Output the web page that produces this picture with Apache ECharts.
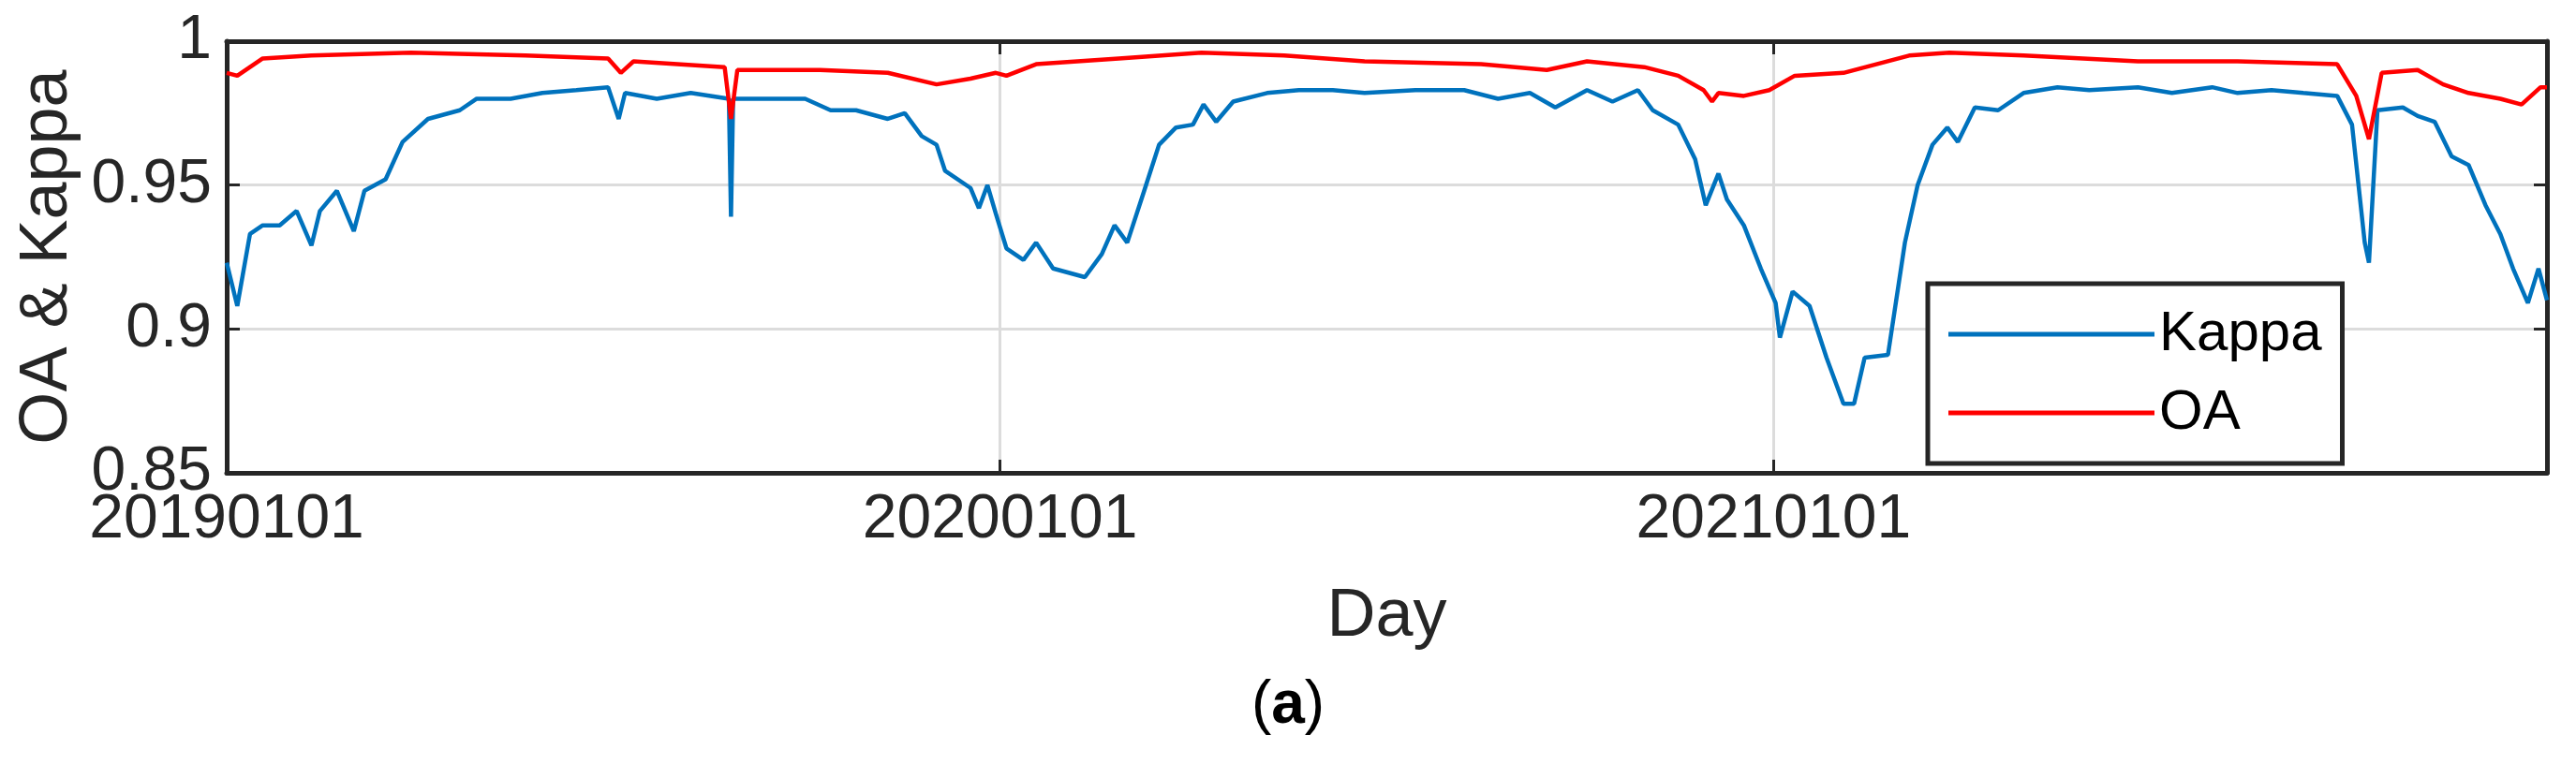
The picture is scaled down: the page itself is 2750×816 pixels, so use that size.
<!DOCTYPE html>
<html>
<head>
<meta charset="utf-8">
<script src="https://cdn.jsdelivr.net/npm/echarts@6/dist/echarts.min.js"></script>
<style>
  html, body { margin: 0; padding: 0; background: #fff; }
  #chart { width: 2750px; height: 816px; }
</style>
</head>
<body>
<div id="chart"></div>
<script>
// day index from 2019-01-01
const kappaDays = [0, 5, 11, 17, 25, 33, 40, 44, 52, 60, 65, 75, 83, 95, 110, 118, 134, 149, 165, 180, 185, 188, 203, 219, 237, 238, 239, 258, 273, 285, 297, 312, 320, 328, 335, 339, 351, 355, 359, 363, 368, 376, 382, 390, 405, 413, 419, 425, 433, 440, 448, 456, 461, 467, 475, 491, 506, 522, 537, 561, 584, 600, 615, 627, 642, 654, 666, 673, 685, 693, 698, 704, 708, 716, 724, 731, 733, 739, 747, 755, 763, 768, 773, 784, 792, 798, 805, 812, 817, 825, 836, 848, 864, 879, 902, 918, 937, 949, 965, 980, 996, 1003, 1009, 1011, 1015, 1027, 1034, 1042, 1050, 1058, 1066, 1073, 1079, 1086, 1091, 1095];
const kappaVals = [0.923, 0.908, 0.933, 0.936, 0.936, 0.941, 0.929, 0.941, 0.948, 0.934, 0.948, 0.952, 0.965, 0.973, 0.976, 0.980, 0.980, 0.982, 0.983, 0.984, 0.973, 0.982, 0.980, 0.982, 0.980, 0.939, 0.980, 0.980, 0.980, 0.976, 0.976, 0.973, 0.975, 0.967, 0.964, 0.955, 0.949, 0.942, 0.950, 0.940, 0.928, 0.924, 0.930, 0.921, 0.918, 0.926, 0.936, 0.930, 0.948, 0.964, 0.970, 0.971, 0.978, 0.972, 0.979, 0.982, 0.983, 0.983, 0.982, 0.983, 0.983, 0.980, 0.982, 0.977, 0.983, 0.979, 0.983, 0.976, 0.971, 0.959, 0.943, 0.954, 0.945, 0.936, 0.921, 0.909, 0.897, 0.913, 0.908, 0.890, 0.874, 0.874, 0.890, 0.891, 0.930, 0.950, 0.964, 0.970, 0.965, 0.977, 0.976, 0.982, 0.984, 0.983, 0.984, 0.982, 0.984, 0.982, 0.983, 0.982, 0.981, 0.971, 0.930, 0.923, 0.976, 0.977, 0.974, 0.972, 0.960, 0.957, 0.943, 0.933, 0.921, 0.909, 0.921, 0.910];
const oaDays = [0, 5, 17, 40, 87, 141, 180, 186, 192, 235, 238, 241, 280, 312, 335, 351, 363, 368, 382, 421, 460, 499, 537, 592, 623, 642, 669, 685, 697, 701, 704, 716, 728, 740, 763, 794, 813, 848, 902, 949, 996, 1005, 1011, 1017, 1034, 1046, 1058, 1073, 1083, 1092, 1095];
const oaVals = [0.989, 0.988, 0.994, 0.995, 0.996, 0.995, 0.994, 0.989, 0.993, 0.991, 0.973, 0.990, 0.990, 0.989, 0.985, 0.987, 0.989, 0.988, 0.992, 0.994, 0.996, 0.995, 0.993, 0.992, 0.990, 0.993, 0.991, 0.988, 0.983, 0.979, 0.982, 0.981, 0.983, 0.988, 0.989, 0.995, 0.996, 0.995, 0.993, 0.993, 0.992, 0.981, 0.966, 0.989, 0.990, 0.985, 0.982, 0.980, 0.978, 0.984, 0.984];
const xTickLabels = ['20190101', '20200101', '20210101'];

const pair = (d, v) => d.map((x, i) => [x, v[i]]);
const font = 'Liberation Sans, Arial, sans-serif';
const tick = { show: true, inside: true, length: 14, lineStyle: { color: '#262626', width: 3 } };
const frame = { show: true, onZero: false, lineStyle: { color: '#262626', width: 5 } };

const chart = echarts.init(document.getElementById('chart'));
chart.setOption({
  animation: false,
  grid: { left: 242, right: 31, top: 44, bottom: 311, outerBoundsMode: 'none' },
  legend: {
    orient: 'vertical', left: 2058, top: 303, width: 461,
    borderColor: '#262626', borderWidth: 5, backgroundColor: '#fff',
    padding: [24, 22, 24, 22], itemGap: 24, itemWidth: 220, itemHeight: 5,
    icon: 'rect',
    textStyle: { fontFamily: font, fontSize: 60, color: '#000' },
    data: ['Kappa', 'OA']
  },
  xAxis: [{
    type: 'value', min: 0, max: 1095, interval: 365,
    name: 'Day', nameLocation: 'middle', nameGap: 118,
    nameTextStyle: { fontFamily: font, fontSize: 72, color: '#262626' },
    axisLine: frame, axisTick: tick,
    axisLabel: { fontFamily: font, fontSize: 66, color: '#262626', margin: 18,
      formatter: v => xTickLabels[Math.round(v / 365)] || '' },
    splitLine: { show: true, lineStyle: { color: '#dcdcdc', width: 3 } }
  }, {
    type: 'value', position: 'top', min: 0, max: 1095, interval: 365,
    axisLine: frame, axisTick: tick, axisLabel: { show: false }, splitLine: { show: false }
  }],
  yAxis: [{
    type: 'value', min: 0.85, max: 1, interval: 0.05,
    name: 'OA & Kappa', nameLocation: 'middle', nameGap: 155,
    nameTextStyle: { fontFamily: font, fontSize: 72, color: '#262626' },
    axisLine: frame, axisTick: tick,
    axisLabel: { fontFamily: font, fontSize: 66, color: '#262626', margin: 16,
      formatter: v => Math.abs(v - 1) < 1e-6 ? '1' : String(+v.toFixed(2)) },
    splitLine: { show: true, lineStyle: { color: '#dcdcdc', width: 3 } }
  }, {
    type: 'value', position: 'right', min: 0.85, max: 1, interval: 0.05,
    axisLine: frame, axisTick: tick, axisLabel: { show: false }, splitLine: { show: false }
  }],
  graphic: [{
    type: 'text', left: 'center', top: 722,
    style: {
      text: '({b|a})', fontFamily: font, fontSize: 64, fill: '#000',
      rich: { b: { fontFamily: font, fontSize: 64, fontWeight: 'bold', fill: '#000' } }
    }
  }],
  series: [
    { name: 'Kappa', type: 'line', data: pair(kappaDays, kappaVals), showSymbol: false,
      lineStyle: { color: '#0072bd', width: 4.5 }, itemStyle: { color: '#0072bd' } },
    { name: 'OA', type: 'line', data: pair(oaDays, oaVals), showSymbol: false,
      lineStyle: { color: '#ff0000', width: 4.5 }, itemStyle: { color: '#ff0000' } }
  ]
});
</script>
</body>
</html>
